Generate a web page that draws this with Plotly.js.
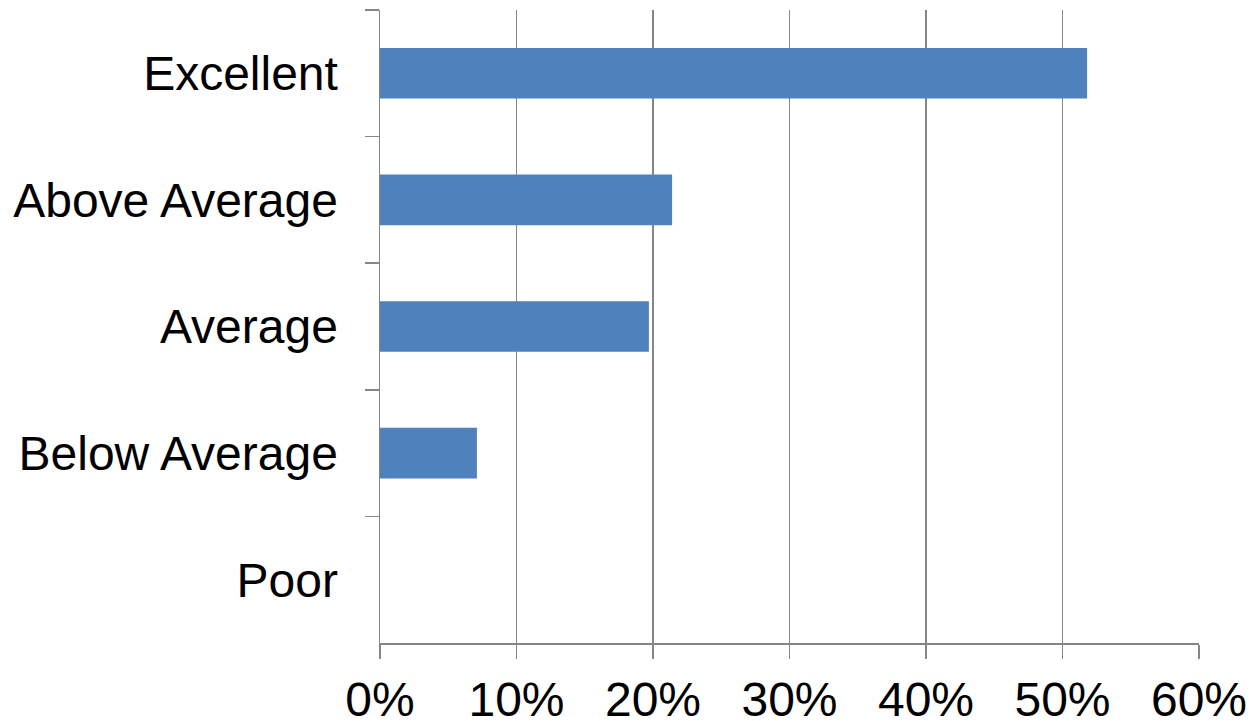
<!DOCTYPE html>
<html>
<head>
<meta charset="utf-8">
<script src="https://cdn.plot.ly/plotly-3.0.1.min.js"></script>
<style>
html, body { margin: 0; padding: 0; background: #fff; }
#chart { width: 1252px; height: 721px; }
</style>
</head>
<body>
<div id="chart"></div>
<script>
const categories = ["Excellent", "Above Average", "Average", "Below Average", "Poor"];
const shares = [0.518, 0.214, 0.197, 0.071, 0];
const xTickValues = [0, 0.1, 0.2, 0.3, 0.4, 0.5, 0.6];
const xTickLabels = ["0%", "10%", "20%", "30%", "40%", "50%", "60%"];

const trace = {
  type: "bar",
  orientation: "h",
  y: categories,
  x: shares,
  marker: { color: "#4F81BD", line: { width: 0 } },
  hoverinfo: "x+y"
};

const layout = {
  width: 1252,
  height: 721,
  margin: { l: 380, r: 53, t: 10, b: 78 },
  paper_bgcolor: "#ffffff",
  plot_bgcolor: "#ffffff",
  showlegend: false,
  bargap: 0.6,
  font: { family: "Liberation Sans, Arial, sans-serif", color: "#000000", size: 48 },
  xaxis: {
    range: [0, 0.6],
    tickvals: xTickValues,
    ticktext: xTickLabels,
    showgrid: true,
    gridcolor: "#868686",
    gridwidth: 1.5,
    zeroline: false,
    showline: true,
    linecolor: "#868686",
    linewidth: 1.5,
    ticks: "outside",
    ticklen: 14,
    tickwidth: 1.5,
    tickcolor: "#868686",
    ticklabelstandoff: 0,
    tickfont: { size: 48, color: "#000000" },
    fixedrange: true
  },
  yaxis: {
    type: "category",
    categoryorder: "array",
    categoryarray: categories,
    autorange: "reversed",
    tickson: "boundaries",
    showgrid: false,
    zeroline: false,
    showline: true,
    linecolor: "#868686",
    linewidth: 1.5,
    ticks: "outside",
    ticklen: 14,
    tickwidth: 1.5,
    tickcolor: "#868686",
    ticklabelstandoff: 31,
    tickfont: { size: 48, color: "#000000" },
    fixedrange: true
  }
};

Plotly.newPlot("chart", [trace], layout, { displayModeBar: false, staticPlot: true });
</script>
</body>
</html>
